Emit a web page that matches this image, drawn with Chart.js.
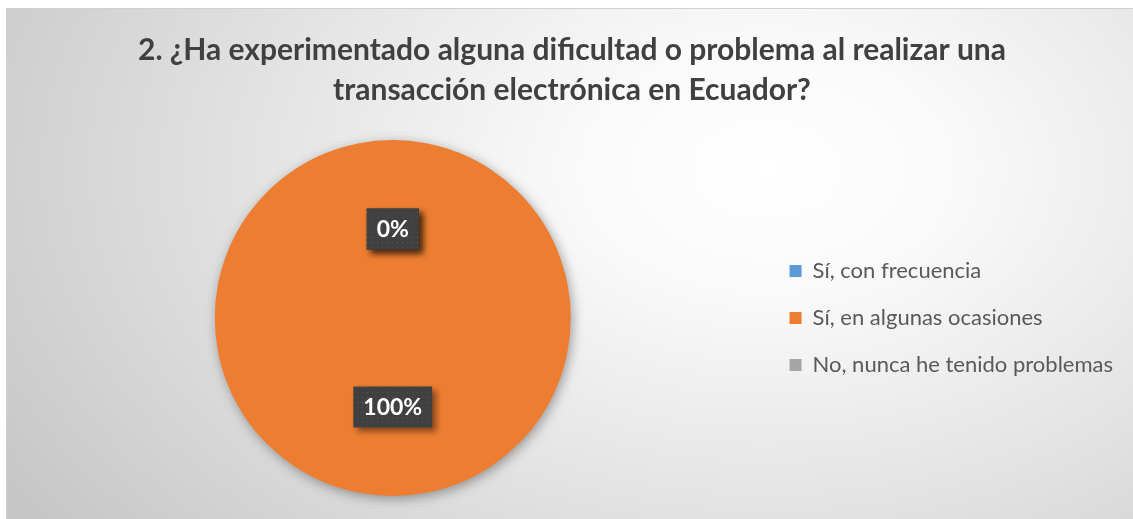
<!DOCTYPE html>
<html>
<head>
<meta charset="utf-8">
<script src="https://cdn.jsdelivr.net/npm/chart.js@4.4.0/dist/chart.umd.min.js"></script>
<style>
  html, body { margin: 0; padding: 0; background: #fff; }
  body { width: 1133px; height: 519px; position: relative; overflow: hidden; }
  #fondo {
    position: absolute; left: 6px; top: 8px; width: 1140px; height: 520px;
    border-top: 1px solid #d0d0d0; border-left: 1px solid #d0d0d0;
    background: radial-gradient(ellipse 900px 600px at 760px 160px, #ffffff 0%, #fafafa 20%, #e4e4e4 55%, #c6c6c6 100%);
  }
  #wrap { position: absolute; left: 0; top: 0; width: 1133px; height: 519px; }
</style>
</head>
<body>
<div id="fondo"></div>
<div id="wrap"><canvas id="myChart"></canvas></div>
<script>
// Datos del gráfico
const categorias = ["Sí, con frecuencia", "Sí, en algunas ocasiones", "No, nunca he tenido problemas"];
const valores = [0, 100, 0];
const colores = ["#5b9bd5", "#ed7d31", "#a5a5a5"];
const titulo = ["2. ¿Ha experimentado alguna dificultad o problema al realizar una", "transacción electrónica en Ecuador?"];

// Patrón punteado para las etiquetas
function crearPatron(ctx) {
    const c = document.createElement("canvas");
    c.width = 5; c.height = 5;
    const p = c.getContext("2d");
    p.fillStyle = "#404040";
    p.fillRect(0, 0, 5, 5);
    p.fillStyle = "#555555";
    p.fillRect(2, 2, 1, 1);
    return ctx.createPattern(c, "repeat");
}

// Sombra del pastel
const sombraPastel = {
    id: "sombraPastel",
    beforeDatasetsDraw(chart) {
        const ctx = chart.ctx;
        ctx.save();
        ctx.shadowColor = "rgba(0,0,0,0.35)";
        ctx.shadowBlur = 12;
        ctx.shadowOffsetX = 2;
        ctx.shadowOffsetY = 3;
    },
    afterDatasetsDraw(chart) {
        chart.ctx.restore();
    }
};

// Etiquetas de porcentaje
const etiquetas = {
    id: "etiquetas",
    afterDatasetsDraw(chart) {
        const ctx = chart.ctx;
        const meta = chart.getDatasetMeta(0);
        const datos = chart.data.datasets[0].data;
        const total = datos.reduce((a, b) => a + b, 0);
        const patron = crearPatron(ctx);
        ctx.save();
        ctx.font = "bold 23px Lato";
        ctx.textAlign = "center";
        ctx.textBaseline = "middle";
        meta.data.forEach((arc, i) => {
            const pos = arc.tooltipPosition();
            const txt = Math.round(datos[i] / total * 100) + "%";
            const w = ctx.measureText(txt).width + 20;
            const h = 41;
            const x = pos.x - w / 2, y = pos.y - h / 2;
            ctx.save();
            ctx.shadowColor = "rgba(0,0,0,0.45)";
            ctx.shadowBlur = 6;
            ctx.shadowOffsetX = 4;
            ctx.shadowOffsetY = 4;
            ctx.fillStyle = patron;
            ctx.fillRect(x, y, w, h);
            ctx.restore();
            ctx.fillStyle = "#ffffff";
            ctx.fillText(txt, pos.x, pos.y + 1);
        });
        ctx.restore();
    }
};

const ctx = document.getElementById("myChart").getContext("2d");
new Chart(ctx, {
    type: "pie",
    data: {
        labels: categorias,
        datasets: [{
            data: valores,
            backgroundColor: colores,
            borderWidth: 0
        }]
    },
    options: {
        responsive: true,
        maintainAspectRatio: false,
        animation: false,
        layout: { padding: { left: 21, right: 10, top: 0, bottom: 23 } },
        plugins: {
            title: {
                display: true,
                text: titulo,
                color: "#404040",
                font: { family: "Lato", size: 30, weight: "bold", lineHeight: "40px" },
                padding: { top: 30, bottom: 30 }
            },
            legend: {
                position: "right",
                fullSize: false,
                labels: {
                    color: "#595959",
                    font: { family: "Lato", size: 22 },
                    boxWidth: 12,
                    boxHeight: 12,
                    padding: 25
                }
            },
            tooltip: { enabled: false }
        }
    },
    plugins: [sombraPastel, etiquetas]
});
</script>
</body>
</html>
